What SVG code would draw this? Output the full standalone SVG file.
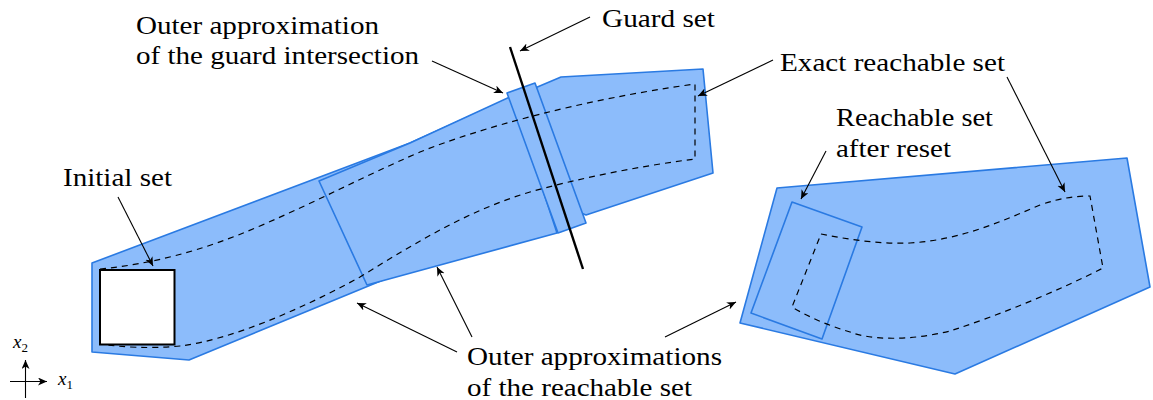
<svg xmlns="http://www.w3.org/2000/svg" width="1153" height="400" viewBox="0 0 1153 400">
<defs>
<marker id="ah" markerUnits="userSpaceOnUse" markerWidth="12" markerHeight="10" refX="9" refY="4" orient="auto">
<path d="M0,0 L9,4 L0,8 L2.5,4 Z" fill="#000"/>
</marker>
</defs>
<style>
.reg{fill:#8cbcfb;stroke:#2a7ae2;stroke-width:1.6;stroke-linejoin:round}
.dash{fill:none;stroke:#000;stroke-width:1.2;stroke-dasharray:6 5}
.con{fill:none;stroke:#000;stroke-width:1.1;marker-end:url(#ah)}
.lbl{font-family:"Liberation Serif",serif;font-size:25px;fill:#000}
.ax{font-family:"Liberation Serif",serif;font-style:italic;font-size:19px;fill:#000}
</style>
<rect width="1153" height="400" fill="#fff"/>
<g id="reach-approx-1">
<polygon class="reg" points="92,263 410,143 510,98 560,228 400,273 189,360 92,352"/>
</g>
<g id="reach-approx-2">
<polygon class="reg" points="319,181 410,143 512,96 557,233 367,285"/>
</g>
<g id="reach-approx-3">
<polygon class="reg" points="535,88 561,77 703,69 713,173 586,215 550,200"/>
</g>
<g id="guard-intersection">
<polygon class="reg" points="507,93 535,83 586,223 558,233"/>
</g>
<g id="exact-reach-1">
<path class="dash" d="M100,269 C150,264 200,252 260,226 C320,200 360,178 420,152 C480,128 580,100 695,84 L695,159 C640,166 580,178 530,192 C470,210 420,240 360,277 C300,310 230,340 180,346 C150,349 120,347 100,344"/>
</g>
<g id="initial-set">
<rect x="100" y="270" width="74.5" height="74.5" fill="#fff" stroke="#000" stroke-width="2"/>
</g>
<g id="guard-set">
<line x1="510" y1="47" x2="583" y2="269" stroke="#000" stroke-width="2.4"/>
</g>
<g id="reach-after-jump">
<polygon class="reg" points="777,188 1127,158 1150,287 955,374 740,323"/>
</g>
<g id="reset-set">
<polygon class="reg" points="792,202 862,227 822,339 751,313"/>
</g>
<g id="exact-reach-2">
<path class="dash" d="M821,234 C850,240 880,244 910,243 C960,240 1000,222 1040,205 C1060,198 1075,196 1090,196 L1103,268 C1060,290 1000,315 950,331 C910,341 870,340 850,332 C830,326 810,318 792,307 Z"/>
</g>
<g id="axes">
<line class="con" x1="10" y1="381.5" x2="47" y2="381.5"/>
<line class="con" x1="25.5" y1="398" x2="25.5" y2="360"/>
<text class="ax" x="13" y="348">x<tspan font-style="normal" font-size="13" dy="4">2</tspan></text>
<text class="ax" x="58" y="385">x<tspan font-style="normal" font-size="13" dy="4">1</tspan></text>
</g>
<g id="connectors">
<line class="con" x1="118" y1="197" x2="153" y2="266"/>
<line class="con" x1="432" y1="61" x2="503" y2="93"/>
<line class="con" x1="590" y1="17" x2="520" y2="51"/>
<line class="con" x1="773" y1="60" x2="698" y2="96"/>
<line class="con" x1="1007" y1="77" x2="1065" y2="192"/>
<line class="con" x1="826" y1="151" x2="801" y2="199"/>
<line class="con" x1="457" y1="352" x2="357" y2="303"/>
<line class="con" x1="472" y1="337" x2="437" y2="267"/>
<line class="con" x1="665" y1="337" x2="736" y2="302"/>
</g>
<g id="labels">
<text class="lbl" x="136" y="34" textLength="243" lengthAdjust="spacingAndGlyphs">Outer approximation</text>
<text class="lbl" x="136" y="64" textLength="283" lengthAdjust="spacingAndGlyphs">of the guard intersection</text>
<text class="lbl" x="602" y="27" textLength="113" lengthAdjust="spacingAndGlyphs">Guard set</text>
<text class="lbl" x="780" y="71" textLength="225" lengthAdjust="spacingAndGlyphs">Exact reachable set</text>
<text class="lbl" x="836" y="126" textLength="157" lengthAdjust="spacingAndGlyphs">Reachable set</text>
<text class="lbl" x="836" y="157" textLength="115" lengthAdjust="spacingAndGlyphs">after reset</text>
<text class="lbl" x="63" y="186" textLength="109" lengthAdjust="spacingAndGlyphs">Initial set</text>
<text class="lbl" x="467" y="365" textLength="255" lengthAdjust="spacingAndGlyphs">Outer approximations</text>
<text class="lbl" x="467" y="396" textLength="225" lengthAdjust="spacingAndGlyphs">of the reachable set</text>
</g>
</svg>
